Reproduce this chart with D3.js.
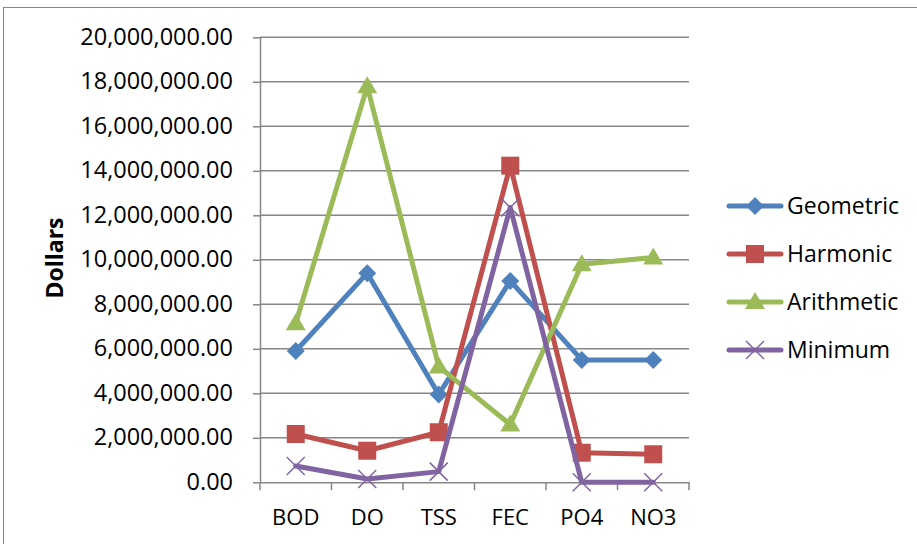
<!DOCTYPE html>
<html><head><meta charset="utf-8">
<script src="https://cdn.jsdelivr.net/npm/d3@7"></script>
<style>body{margin:0;background:#fff}svg{display:block}text{font-family:"Open Sans",sans-serif}</style>
</head><body><svg id="c" width="917" height="544"></svg>
<script>
const categories = ["BOD","DO","TSS","FEC","PO4","NO3"];
const geometric  = [5900000, 9400000, 3950000, 9050000, 5500000, 5500000];
const harmonic   = [2170000, 1420000, 2250000, 14230000, 1330000, 1260000];
const arithmetic = [7150000, 17800000, 5200000, 2600000, 9800000, 10100000];
const minimum    = [730000, 150000, 480000, 12350000, 0, 0];
const seriesNames = ["Geometric","Harmonic","Arithmetic","Minimum"];
const seriesColors = ["#4F81BD","#C0504D","#9BBB59","#8064A2"];
const seriesShapes = ["diamond","square","triangle","x"];
const yTicks = [0,2000000,4000000,6000000,8000000,10000000,12000000,14000000,16000000,18000000,20000000];
const yTitle = "Dollars";

const seriesValues = [geometric, harmonic, arithmetic, minimum];
const svg = d3.select("#c");
const L = 260, R = 689, T = 37.3, B = 482.3;
const x = d3.scaleBand().domain(categories).range([L, R]);
const y = d3.scaleLinear().domain([0, 20000000]).range([B, T]);
const grid = "#868686";

// outer frame
svg.append("rect").attr("x",3.5).attr("y",7.5).attr("width",930).attr("height",560)
  .attr("fill","none").attr("stroke",grid).attr("stroke-width",1);

// gridlines
svg.append("g").selectAll("line").data(yTicks.slice(1)).join("line")
  .attr("x1",L).attr("x2",R).attr("y1",d=>y(d)).attr("y2",d=>y(d))
  .attr("stroke",grid).attr("stroke-width",1.5);

const fmt = d3.format(",.2f");
const yAxis = svg.append("g").attr("transform",`translate(${L},0)`)
  .call(d3.axisLeft(y).tickValues(yTicks).tickFormat(fmt).tickSize(7).tickSizeOuter(0).tickPadding(20));
yAxis.select(".domain").attr("stroke",grid).attr("stroke-width",1.5);
yAxis.selectAll(".tick line").attr("stroke",grid).attr("stroke-width",1.5);
yAxis.selectAll("text").attr("font-size",23.5).attr("fill","#000").attr("font-family","Open Sans")
  .attr("dy","0.29em");

const xAxis = svg.append("g").attr("transform",`translate(0,${B})`)
  .call(d3.axisBottom(x).tickSize(0).tickPadding(0));
xAxis.select(".domain").attr("stroke",grid).attr("stroke-width",1.5);
xAxis.selectAll("text").attr("font-size",22).attr("fill","#000").attr("font-family","Open Sans")
  .attr("y",43).attr("dy",0);
// boundary ticks
const bounds = categories.map(c=>x(c)).concat([R]);
svg.append("g").selectAll("line").data(bounds).join("line")
  .attr("x1",d=>d).attr("x2",d=>d).attr("y1",B).attr("y2",B+8)
  .attr("stroke",grid).attr("stroke-width",1.5);

svg.append("text").attr("transform",`translate(63,258) rotate(-90)`)
  .attr("text-anchor","middle").attr("font-size",23).attr("font-weight","bold").text(yTitle);

function marker(g, shape, color, cx, cy){
  if(shape==="diamond"){
    g.append("path").attr("d",`M${cx},${cy-9}L${cx+9},${cy}L${cx},${cy+9}L${cx-9},${cy}Z`).attr("fill",color);
  } else if(shape==="square"){
    g.append("rect").attr("x",cx-9).attr("y",cy-9).attr("width",18).attr("height",18).attr("fill",color);
  } else if(shape==="triangle"){
    g.append("path").attr("d",`M${cx},${cy-10}L${cx+10},${cy+7}L${cx-10},${cy+7}Z`).attr("fill",color);
  } else {
    g.append("path").attr("d",`M${cx-9},${cy-9}L${cx+9},${cy+9}M${cx-9},${cy+9}L${cx+9},${cy-9}`)
      .attr("stroke",color).attr("stroke-width",1.5).attr("fill","none");
  }
}

const line = d3.line().x((d,i)=>x(categories[i])+x.bandwidth()/2).y(d=>y(d));
seriesValues.forEach((vals,si)=>{
  const g = svg.append("g");
  g.append("path").attr("d",line(vals)).attr("fill","none").attr("stroke",seriesColors[si])
    .attr("stroke-width",5).attr("stroke-linejoin","round").attr("stroke-linecap","round");
  vals.forEach((v,i)=>marker(g, seriesShapes[si], seriesColors[si], x(categories[i])+x.bandwidth()/2, y(v)));
});

// legend
const legY = [206, 254, 302, 350];
seriesNames.forEach((n,i)=>{
  const g = svg.append("g");
  g.append("line").attr("x1",729).attr("x2",781).attr("y1",legY[i]).attr("y2",legY[i])
    .attr("stroke",seriesColors[i]).attr("stroke-width",5).attr("stroke-linecap","round");
  marker(g, seriesShapes[i], seriesColors[i], 755, legY[i]);
  g.append("text").attr("x",787).attr("y",legY[i]).attr("dy","0.35em").attr("font-size",23).text(n);
});
</script></body></html>
